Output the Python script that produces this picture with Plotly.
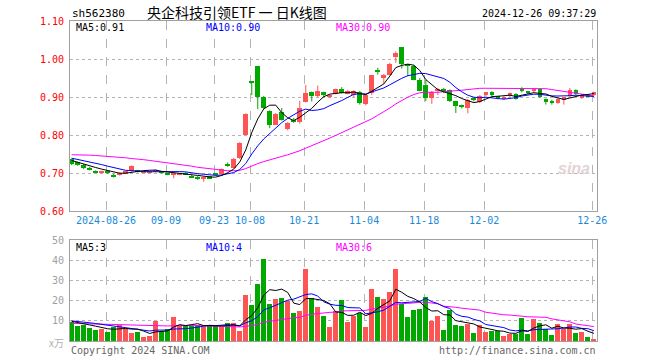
import plotly.graph_objects as go

# ---------------- data ----------------
dates = ["2024-08-16",
         "2024-08-19", "2024-08-20", "2024-08-21", "2024-08-22", "2024-08-23",
         "2024-08-26", "2024-08-27", "2024-08-28", "2024-08-29", "2024-08-30",
         "2024-09-02", "2024-09-03", "2024-09-04", "2024-09-05", "2024-09-06",
         "2024-09-09", "2024-09-10", "2024-09-11", "2024-09-12", "2024-09-13",
         "2024-09-18", "2024-09-19", "2024-09-20",
         "2024-09-23", "2024-09-24", "2024-09-25", "2024-09-26", "2024-09-27",
         "2024-09-30",
         "2024-10-08", "2024-10-09", "2024-10-10", "2024-10-11",
         "2024-10-14", "2024-10-15", "2024-10-16", "2024-10-17", "2024-10-18",
         "2024-10-21", "2024-10-22", "2024-10-23", "2024-10-24", "2024-10-25",
         "2024-10-28", "2024-10-29", "2024-10-30", "2024-10-31", "2024-11-01",
         "2024-11-04", "2024-11-05", "2024-11-06", "2024-11-07", "2024-11-08",
         "2024-11-11", "2024-11-12", "2024-11-13", "2024-11-14", "2024-11-15",
         "2024-11-18", "2024-11-19", "2024-11-20", "2024-11-21", "2024-11-22",
         "2024-11-25", "2024-11-26", "2024-11-27", "2024-11-28", "2024-11-29",
         "2024-12-02", "2024-12-03", "2024-12-04", "2024-12-05", "2024-12-06",
         "2024-12-09", "2024-12-10", "2024-12-11", "2024-12-12", "2024-12-13",
         "2024-12-16", "2024-12-17", "2024-12-18", "2024-12-19", "2024-12-20",
         "2024-12-23", "2024-12-24", "2024-12-25", "2024-12-26"]

opens = [0.736, 0.728, 0.722, 0.712, 0.704, 0.700, 0.705, 0.696, 0.695, 0.699,
         0.704, 0.706, 0.702, 0.701, 0.703, 0.703, 0.697, 0.695, 0.696, 0.701,
         0.693, 0.690, 0.686, 0.691, 0.697, 0.697, 0.722, 0.714, 0.739, 0.801,
         0.940, 0.982, 0.899, 0.862, 0.827, 0.861, 0.815, 0.838, 0.834, 0.888,
         0.912, 0.902, 0.912, 0.899, 0.909, 0.920, 0.910, 0.905, 0.914, 0.882,
         0.911, 0.970, 0.951, 0.959, 1.005, 1.032, 0.986, 0.982, 0.944, 0.931,
         0.898, 0.916, 0.919, 0.919, 0.889, 0.876, 0.871, 0.895, 0.886, 0.904,
         0.914, 0.900, 0.895, 0.902, 0.909, 0.919, 0.914, 0.915, 0.921, 0.895,
         0.887, 0.884, 0.891, 0.902, 0.918, 0.897, 0.906, 0.905]
closes = [0.725, 0.721, 0.712, 0.711, 0.703, 0.704, 0.700, 0.690, 0.700, 0.704,
          0.718, 0.704, 0.705, 0.705, 0.707, 0.701, 0.696, 0.699, 0.698, 0.697,
          0.689, 0.685, 0.690, 0.686, 0.696, 0.711, 0.721, 0.738, 0.779, 0.855,
          0.939, 0.900, 0.871, 0.827, 0.856, 0.840, 0.832, 0.835, 0.871, 0.910,
          0.902, 0.915, 0.906, 0.905, 0.920, 0.911, 0.915, 0.915, 0.885, 0.905,
          0.957, 0.966, 0.959, 0.988, 1.017, 0.986, 0.982, 0.946, 0.917, 0.898,
          0.914, 0.922, 0.917, 0.889, 0.876, 0.875, 0.893, 0.893, 0.903, 0.912,
          0.904, 0.898, 0.900, 0.910, 0.895, 0.918, 0.913, 0.921, 0.900, 0.888,
          0.886, 0.895, 0.899, 0.919, 0.907, 0.906, 0.902, 0.912]
highs = [0.738, 0.730, 0.724, 0.716, 0.707, 0.706, 0.707, 0.698, 0.702, 0.706,
         0.720, 0.708, 0.707, 0.706, 0.709, 0.705, 0.699, 0.700, 0.700, 0.702,
         0.695, 0.692, 0.692, 0.692, 0.699, 0.712, 0.728, 0.740, 0.781, 0.857,
         0.940, 0.982, 0.903, 0.865, 0.858, 0.871, 0.834, 0.845, 0.890, 0.932,
         0.914, 0.930, 0.914, 0.907, 0.922, 0.926, 0.918, 0.918, 0.916, 0.907,
         0.958, 0.977, 0.961, 0.990, 1.020, 1.032, 0.987, 0.984, 0.950, 0.945,
         0.916, 0.924, 0.924, 0.920, 0.890, 0.880, 0.895, 0.898, 0.905, 0.913,
         0.915, 0.903, 0.902, 0.912, 0.910, 0.926, 0.916, 0.922, 0.923, 0.896,
         0.893, 0.896, 0.900, 0.924, 0.920, 0.908, 0.908, 0.914]
lows = [0.721, 0.719, 0.710, 0.707, 0.700, 0.699, 0.698, 0.688, 0.693, 0.697,
        0.703, 0.701, 0.700, 0.700, 0.702, 0.699, 0.694, 0.686, 0.694, 0.695,
        0.688, 0.682, 0.677, 0.684, 0.693, 0.692, 0.716, 0.713, 0.737, 0.799,
        0.905, 0.868, 0.868, 0.818, 0.826, 0.838, 0.812, 0.832, 0.830, 0.886,
        0.888, 0.900, 0.900, 0.897, 0.907, 0.909, 0.907, 0.900, 0.880, 0.878,
        0.905, 0.959, 0.935, 0.957, 0.990, 0.975, 0.955, 0.944, 0.915, 0.889,
        0.882, 0.905, 0.910, 0.887, 0.858, 0.870, 0.857, 0.888, 0.884, 0.902,
        0.902, 0.894, 0.893, 0.900, 0.893, 0.912, 0.908, 0.913, 0.898, 0.880,
        0.880, 0.882, 0.880, 0.900, 0.905, 0.895, 0.900, 0.903]
volumes = [9.5, 7.3, 8.2, 6.5, 5.5, 5.8, 4.5, 7.0, 8.2, 5.8,
           4.2, 4.5, 2.0, 2.3, 9.8, 4.8, 6.2, 11.8, 8.2, 7.5,
           7.5, 8.2, 7.0, 7.5, 7.5, 7.5, 9.0, 9.0, 4.8, 22.8,
           17.8, 28.2, 40.8, 18.3, 20.8, 21.3, 19.7, 14.2, 14.8, 35.8,
           21.2, 16.8, 12.3, 6.8, 15.2, 20.3, 9.3, 12.7, 14.2, 6.8,
           26.0, 22.0, 20.8, 24.3, 36.0, 18.3, 11.8, 15.3, 15.8, 22.0,
           9.8, 12.5, 5.3, 15.3, 7.8, 7.3, 8.3, 3.8, 7.8, 4.3,
           4.8, 4.8, 2.5, 3.3, 3.7, 11.3, 3.3, 10.8, 8.8, 6.2,
           2.8, 8.3, 6.2, 8.3, 3.8, 4.3, 1.8, 0.8]

# moving-average values before a full window exists
ma5_head = [0.733, 0.728, 0.723, 0.718]
ma10_head = [0.739, 0.736, 0.732, 0.729, 0.726, 0.722, 0.718, 0.714, 0.711]
ma30_head = [0.748, 0.748, 0.747, 0.747, 0.746, 0.745, 0.744, 0.742, 0.741, 0.740,
             0.738, 0.737, 0.735, 0.733, 0.731, 0.729, 0.727, 0.725, 0.723, 0.721,
             0.718, 0.715, 0.713, 0.711, 0.709, 0.707, 0.706, 0.706, 0.707]
vma5_head = [9.8, 9.3, 8.8, 8.0]
vma10_head = [10.0, 9.8, 9.5, 9.1, 8.7, 8.3, 7.9, 7.6, 7.3]
vma30_head = [8.8, 8.7, 8.7, 8.6, 8.6, 8.5, 8.4, 8.3, 8.2, 8.2,
              8.1, 8.0, 7.9, 7.8, 7.7, 7.6, 7.5, 7.6, 7.7, 7.7,
              7.7, 7.6, 7.6, 7.5, 7.4, 7.3, 7.2, 7.1, 7.0]

tick_dates = ["2024-08-26", "2024-09-09", "2024-09-23", "2024-10-08", "2024-10-21",
              "2024-11-04", "2024-11-18", "2024-12-02", "2024-12-26"]
tick_labels = ["2024-08-26", "09-09", "09-23", "10-08", "10-21",
               "11-04", "11-18", "12-02", "12-26"]
price_ticks = [0.60, 0.70, 0.80, 0.90, 1.00, 1.10]
vol_ticks = [10, 20, 30, 40, 50]

code = "sh562380"
title = "央企科技引领ETF 一 日K线图"
stamp = "2024-12-26 09:37:29"
price_ma_labels = ["MA5:0.91", "MA10:0.90", "MA30:0.90"]
vol_ma_labels = ["MA5:3", "MA10:4", "MA30:6"]

# ---------------- helpers ----------------
def moving_avg(vals, win, head):
    out = list(head)
    for i in range(len(head), len(vals)):
        out.append(sum(vals[i - win + 1:i + 1]) / win)
    return out

n = len(dates)
idx = list(range(n))
ma5 = moving_avg(closes, 5, ma5_head)
ma10 = moving_avg(closes, 10, ma10_head)
ma30 = moving_avg(closes, 30, ma30_head)
vma5 = moving_avg(volumes, 5, vma5_head)
vma10 = moving_avg(volumes, 10, vma10_head)
vma30 = moving_avg(volumes, 30, vma30_head)

RED = "#ff5454"
GREEN = "#00a800"
BLUE = "#0000ff"
MAG = "#ff00ff"
MONO = "DejaVu Sans Mono"

up = [c >= o for o, c in zip(opens, closes)]
colors = [RED if u else GREEN for u in up]
min_h = 0.0028
body_base, body_h = [], []
for o, c in zip(opens, closes):
    h = abs(c - o)
    if h < min_h:
        body_base.append((o + c) / 2 - min_h / 2)
        body_h.append(min_h)
    else:
        body_base.append(min(o, c))
        body_h.append(h)

fig = go.Figure()

# wicks
for col, flag in ((RED, True), (GREEN, False)):
    xs, ys = [], []
    for i in idx:
        if up[i] == flag:
            xs += [i, i, None]
            ys += [lows[i], highs[i], None]
    fig.add_trace(go.Scatter(x=xs, y=ys, mode="lines", line=dict(color=col, width=1),
                             hoverinfo="skip", showlegend=False, xaxis="x", yaxis="y"))
# bodies
fig.add_trace(go.Bar(x=idx, y=body_h, base=body_base, width=0.78,
                     marker=dict(color=colors, line=dict(width=0)),
                     showlegend=False, xaxis="x", yaxis="y"))
# price MAs
for vals, col in ((ma30, MAG), (ma10, BLUE), (ma5, "#000000")):
    fig.add_trace(go.Scatter(x=idx, y=vals, mode="lines", line=dict(color=col, width=1),
                             showlegend=False, xaxis="x", yaxis="y"))
# volume
fig.add_trace(go.Bar(x=idx, y=volumes, width=0.83,
                     marker=dict(color=colors, line=dict(width=0)),
                     showlegend=False, xaxis="x2", yaxis="y2"))
for vals, col in ((vma30, MAG), (vma10, BLUE), (vma5, "#000000")):
    fig.add_trace(go.Scatter(x=idx, y=vals, mode="lines", line=dict(color=col, width=1),
                             showlegend=False, xaxis="x2", yaxis="y2"))

# ---------------- layout ----------------
W, H = 660, 360
ML, MR, MT, MB = 70, 63, 21, 19
PW, PH = W - ML - MR, H - MT - MB
def px(x):
    return (x - ML) / PW
def py(y):
    return (H - MB - y) / PH

main_bottom = py(211)
vol_top = py(240)
shift = 0.28
tick_pos = [dates.index(d) - shift for d in tick_dates]
xr = [-shift, n - 0.48]

axis_common = dict(range=xr, showline=True, mirror=True, linecolor="#a0a0a0", linewidth=1,
                   zeroline=False, ticks="", showgrid=True, griddash="dash",
                   gridcolor="#b4b4b4", gridwidth=1, tickvals=tick_pos, fixedrange=True)

fig.update_layout(
    width=W, height=H, margin=dict(l=ML, r=MR, t=MT, b=MB),
    paper_bgcolor="white", plot_bgcolor="white", showlegend=False, bargap=0,
    xaxis=dict(axis_common, anchor="y", ticktext=tick_labels,
               tickfont=dict(family=MONO, size=10, color="#1a8ad8")),
    xaxis2=dict(axis_common, anchor="y2", showticklabels=False),
    yaxis=dict(domain=[main_bottom, 1], range=[0.60, 1.10], tickvals=price_ticks,
               ticktext=["%.2f" % v for v in price_ticks],
               tickfont=dict(family=MONO, size=10, color="#ff0000"),
               showline=True, mirror=True, linecolor="#a0a0a0", linewidth=1,
               showgrid=True, griddash="dot", gridcolor="#b4b4b4", zeroline=False,
               ticks="", ticklabelstandoff=3, fixedrange=True),
    yaxis2=dict(domain=[0, vol_top], range=[0, 50.35], tickvals=vol_ticks,
                ticktext=[str(v) for v in vol_ticks],
                tickfont=dict(family=MONO, size=10, color="#a0a0a0"),
                showline=True, mirror=True, linecolor="#a0a0a0", linewidth=1,
                showgrid=True, griddash="dot", gridcolor="#b4b4b4", zeroline=False,
                ticks="", ticklabelstandoff=3, fixedrange=True),
)

ann = []
def text(x, y, s, color="#000000", size=10, anchor="left", family=MONO):
    ann.append(dict(x=px(x), y=py(y), xref="paper", yref="paper", text=s,
                    showarrow=False, xanchor=anchor, yanchor="middle",
                    font=dict(family=family, size=size, color=color)))

text(70, 13, code, size=11)
text(237, 12, title, size=14, anchor="center", family="Noto Sans CJK SC")
text(598, 13, stamp, size=10, anchor="right")
text(74, 27, price_ma_labels[0], "#000000")
text(204, 27, price_ma_labels[1], BLUE)
text(334, 27, price_ma_labels[2], MAG)
text(74, 247, vol_ma_labels[0], "#000000")
text(204, 247, vol_ma_labels[1], BLUE)
text(334, 247, vol_ma_labels[2], MAG)
text(47, 342, "x万", "#b0b0b0", size=10, family="Noto Sans CJK SC")
text(69, 350, "Copyright 2024 SINA.COM", "#666666", size=10)
text(598, 350, "http://finance.sina.com.cn", "#666666", size=10, anchor="right")
text(574, 168, "<i><b>sina</b></i>", "#e2d4d4", size=16, anchor="center", family="Liberation Sans")
fig.update_layout(annotations=ann)

fig.write_html("out.html", config={"displayModeBar": False},
               post_script=["document.body.style.margin='0px';"])
